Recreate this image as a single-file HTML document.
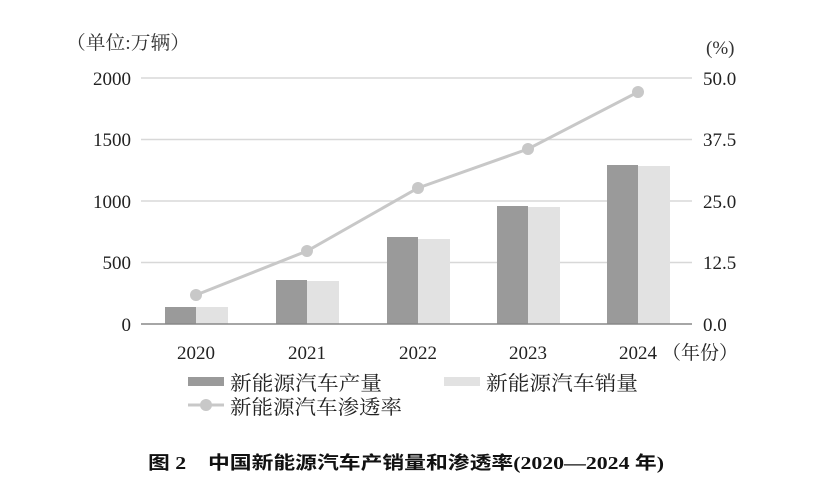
<!DOCTYPE html>
<html><head><meta charset="utf-8"><style>
body{margin:0;background:#fff;}
svg{display:block;font-family:"Liberation Serif","Noto Serif CJK SC",serif;}
</style></head><body>
<svg width="831" height="497" viewBox="0 0 831 497">
<g fill="#333" font-size="19">
<text x="66" y="49" textLength="124" lengthAdjust="spacingAndGlyphs">（单位:万辆）</text>
<text x="706" y="54">(%)</text>
</g>
<g stroke="#d8d8d8" stroke-width="1.5">
<line x1="141" y1="78" x2="692" y2="78"/>
<line x1="141" y1="139.5" x2="692" y2="139.5"/>
<line x1="141" y1="201" x2="692" y2="201"/>
<line x1="141" y1="262.5" x2="692" y2="262.5"/>
</g>
<g font-size="19" fill="#222" text-anchor="end">
<text x="131" y="85">2000</text>
<text x="131" y="146">1500</text>
<text x="131" y="208">1000</text>
<text x="131" y="269">500</text>
<text x="131" y="331">0</text>
</g>
<g font-size="19" fill="#222" text-anchor="start">
<text x="703" y="85">50.0</text>
<text x="703" y="146">37.5</text>
<text x="703" y="208">25.0</text>
<text x="703" y="269">12.5</text>
<text x="703" y="331">0.0</text>
</g>
<g fill="#9a9a9a">
<rect x="165" y="307" width="31" height="17"/>
<rect x="276" y="280" width="31" height="44"/>
<rect x="387" y="237" width="31" height="87"/>
<rect x="497" y="206" width="31" height="118"/>
<rect x="607" y="165" width="31" height="159"/>
</g>
<g fill="#e2e2e2">
<rect x="196" y="307" width="32" height="17"/>
<rect x="307" y="281" width="32" height="43"/>
<rect x="418" y="239" width="32" height="85"/>
<rect x="528" y="207" width="32" height="117"/>
<rect x="638" y="166" width="32" height="158"/>
</g>
<line x1="141" y1="324" x2="692" y2="324" stroke="#888" stroke-width="1.5"/>
<polyline points="196,295 307,251 418,188 528,149 638,92" fill="none" stroke="#c8c8c8" stroke-width="3"/>
<g fill="#c8c8c8">
<circle cx="196" cy="295" r="6"/><circle cx="307" cy="251" r="6"/><circle cx="418" cy="188" r="6"/><circle cx="528" cy="149" r="6"/><circle cx="638" cy="92" r="6"/>
</g>
<g font-size="19" fill="#222" text-anchor="middle">
<text x="196" y="359">2020</text>
<text x="307" y="359">2021</text>
<text x="418" y="359">2022</text>
<text x="528" y="359">2023</text>
<text x="638" y="359">2024</text>
</g>
<text x="662" y="359" font-size="19" fill="#222">（年份）</text>
<rect x="188" y="377" width="36" height="9" fill="#9a9a9a"/>
<text x="230" y="390" font-size="20" fill="#222" textLength="152" lengthAdjust="spacingAndGlyphs">新能源汽车产量</text>
<rect x="444" y="377" width="36" height="9" fill="#e2e2e2"/>
<text x="486" y="390" font-size="20" fill="#222" textLength="152" lengthAdjust="spacingAndGlyphs">新能源汽车销量</text>
<line x1="188" y1="405" x2="224" y2="405" stroke="#c8c8c8" stroke-width="3"/>
<circle cx="206" cy="405" r="6" fill="#c8c8c8"/>
<text x="230" y="414" font-size="20" fill="#222" textLength="172" lengthAdjust="spacingAndGlyphs">新能源汽车渗透率</text>
<text x="148" y="469" font-size="18" font-weight="bold" fill="#111" font-family="Liberation Serif,Noto Sans CJK SC,sans-serif" textLength="516" lengthAdjust="spacingAndGlyphs">图 2　中国新能源汽车产销量和渗透率(2020—2024 年)</text>
</svg>
</body></html>
